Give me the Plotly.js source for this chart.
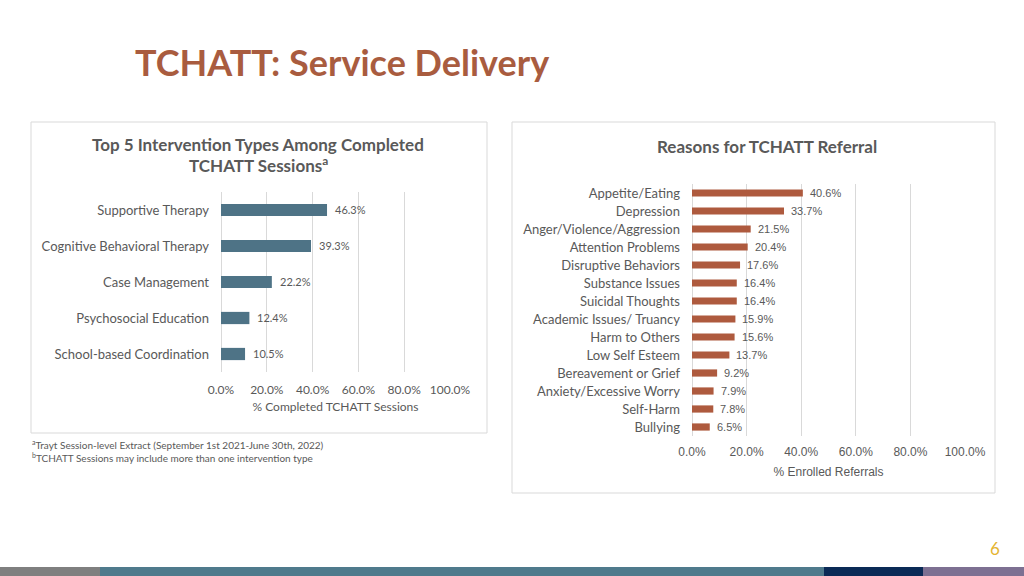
<!DOCTYPE html>
<html>
<head>
<meta charset="utf-8">
<script src="https://cdn.plot.ly/plotly-3.0.1.min.js"></script>
<style>html,body{margin:0;padding:0;background:#fff;}#chart{width:1024px;height:576px;}</style>
</head>
<body>
<div id="chart"></div>
<script>
// ---- data ----
var interventionTypes = ["Supportive Therapy", "Cognitive Behavioral Therapy", "Case Management", "Psychosocial Education", "School-based Coordination"];
var interventionPct = [46.3, 39.3, 22.2, 12.4, 10.5];

var referralReasons = ["Appetite/Eating", "Depression", "Anger/Violence/Aggression", "Attention Problems", "Disruptive Behaviors", "Substance Issues", "Suicidal Thoughts", "Academic Issues/ Truancy", "Harm to Others", "Low Self Esteem", "Bereavement or Grief", "Anxiety/Excessive Worry", "Self-Harm", "Bullying"];
var referralPct = [40.6, 33.7, 21.5, 20.4, 17.6, 16.4, 16.4, 15.9, 15.6, 13.7, 9.2, 7.9, 7.8, 6.5];

var xTicks = [0, 20, 40, 60, 80, 100];

// ---- helpers ----
var W = 1024, H = 576;
function px(x){ return x / W; }
function py(y){ return 1 - y / H; }
var grey = "#595959";
var lato = "Lato, 'Open Sans', sans-serif";
var arial = "'Liberation Sans', Arial, sans-serif";

var traces = [
  {
    type: "bar", orientation: "h",
    x: interventionPct, y: interventionTypes,
    xaxis: "x", yaxis: "y",
    marker: {color: "#4E7386"},
    width: 0.34,
    hoverinfo: "x+y"
  },
  {
    type: "bar", orientation: "h",
    x: referralPct, y: referralReasons,
    xaxis: "x2", yaxis: "y2",
    marker: {color: "#AE5A3E"},
    width: 0.4,
    hoverinfo: "x+y"
  }
];

var axisCommon = {
  range: [0, 100], tickvals: xTicks,
  ticktext: xTicks.map(function(v){ return v.toFixed(1) + "%"; }),
  showgrid: true, gridcolor: "#d9d9d9", gridwidth: 1,
  zeroline: true, zerolinecolor: "#d9d9d9", zerolinewidth: 1,
  showline: false, ticks: "", fixedrange: true
};

var annotations = [
  {text: "<b>TCHATT: Service Delivery</b>", xref: "paper", yref: "paper", x: px(133), y: py(62), xanchor: "left", yanchor: "middle", showarrow: false,
   font: {family: lato, size: 36, color: "#A95C3F"}},
  {text: "<b>Top 5 Intervention Types Among Completed</b>", xref: "paper", yref: "paper", x: px(258), y: py(144), xanchor: "center", yanchor: "middle", showarrow: false,
   font: {family: lato, size: 17, color: grey}},
  {text: "<b>TCHATT Sessions<sup>a</sup></b>", xref: "paper", yref: "paper", x: px(258), y: py(165), xanchor: "center", yanchor: "middle", showarrow: false,
   font: {family: lato, size: 17, color: grey}},
  {text: "<b>Reasons for TCHATT Referral</b>", xref: "paper", yref: "paper", x: px(767), y: py(146), xanchor: "center", yanchor: "middle", showarrow: false,
   font: {family: lato, size: 17, color: grey}},
  {text: "<sup>a</sup>Trayt Session-level Extract (September 1st 2021-June 30th, 2022)", xref: "paper", yref: "paper", x: px(30), y: py(444), xanchor: "left", yanchor: "middle", showarrow: false,
   font: {family: lato, size: 10, color: grey}},
  {text: "<sup>b</sup>TCHATT Sessions may include more than one intervention type", xref: "paper", yref: "paper", x: px(30), y: py(457), xanchor: "left", yanchor: "middle", showarrow: false,
   font: {family: lato, size: 10, color: grey}},
  {text: "6", xref: "paper", yref: "paper", x: px(995), y: py(548), xanchor: "center", yanchor: "middle", showarrow: false,
   font: {family: lato, size: 17, color: "#E4B431"}}
];

// value labels placed via the axes' own scales
interventionPct.forEach(function(v, i){
  annotations.push({text: v.toFixed(1) + "%", xref: "x", yref: "y", x: v, y: interventionTypes[i],
    xanchor: "left", yanchor: "middle", xshift: 6, showarrow: false,
    font: {family: lato, size: 11, color: grey}});
});
referralPct.forEach(function(v, i){
  annotations.push({text: v.toFixed(1) + "%", xref: "x2", yref: "y2", x: v, y: referralReasons[i],
    xanchor: "left", yanchor: "middle", xshift: 5, showarrow: false,
    font: {family: arial, size: 11, color: grey}});
});

var layout = {
  width: W, height: H,
  margin: {l: 0, r: 0, t: 0, b: 0},
  paper_bgcolor: "#ffffff", plot_bgcolor: "rgba(0,0,0,0)",
  showlegend: false,
  font: {family: lato, color: grey},
  xaxis: Object.assign({}, axisCommon, {
    domain: [px(221), px(450)], anchor: "y",
    tickfont: {family: lato, size: 12, color: grey},
    ticklabelstandoff: 9,
    title: {text: "% Completed TCHATT Sessions", font: {family: lato, size: 12, color: grey}, standoff: 6}
  }),
  yaxis: {
    domain: [py(372), py(192)], anchor: "x",
    autorange: "reversed", showgrid: false, zeroline: false, showline: false, ticks: "",
    tickfont: {family: lato, size: 13, color: grey}, ticklabelstandoff: 11, fixedrange: true
  },
  xaxis2: Object.assign({}, axisCommon, {
    domain: [px(692), px(965)], anchor: "y2",
    tickfont: {family: arial, size: 12, color: grey},
    ticklabelstandoff: 7,
    title: {text: "% Enrolled Referrals", font: {family: arial, size: 12, color: grey}, standoff: 9}
  }),
  yaxis2: {
    domain: [py(436), py(184)], anchor: "x2",
    autorange: "reversed", showgrid: false, zeroline: false, showline: false, ticks: "",
    tickfont: {family: lato, size: 13, color: grey}, ticklabelstandoff: 11, fixedrange: true
  },
  shapes: [
    {type: "rect", xref: "paper", yref: "paper", x0: px(31), x1: px(487), y0: py(433), y1: py(122), line: {color: "#d9d9d9", width: 1}},
    {type: "rect", xref: "paper", yref: "paper", x0: px(512), x1: px(995), y0: py(493), y1: py(122), line: {color: "#d9d9d9", width: 1}},
    {type: "rect", xref: "paper", yref: "paper", x0: 0, x1: px(100), y0: 0, y1: py(567), line: {width: 0}, fillcolor: "#7f7f7f"},
    {type: "rect", xref: "paper", yref: "paper", x0: px(100), x1: px(824), y0: 0, y1: py(567), line: {width: 0}, fillcolor: "#4F7A8C"},
    {type: "rect", xref: "paper", yref: "paper", x0: px(824), x1: px(923), y0: 0, y1: py(567), line: {width: 0}, fillcolor: "#0B2A56"},
    {type: "rect", xref: "paper", yref: "paper", x0: px(923), x1: 1, y0: 0, y1: py(567), line: {width: 0}, fillcolor: "#7D7092"}
  ],
  annotations: annotations
};

Plotly.newPlot("chart", traces, layout, {displayModeBar: false, staticPlot: true});
</script>
</body>
</html>
